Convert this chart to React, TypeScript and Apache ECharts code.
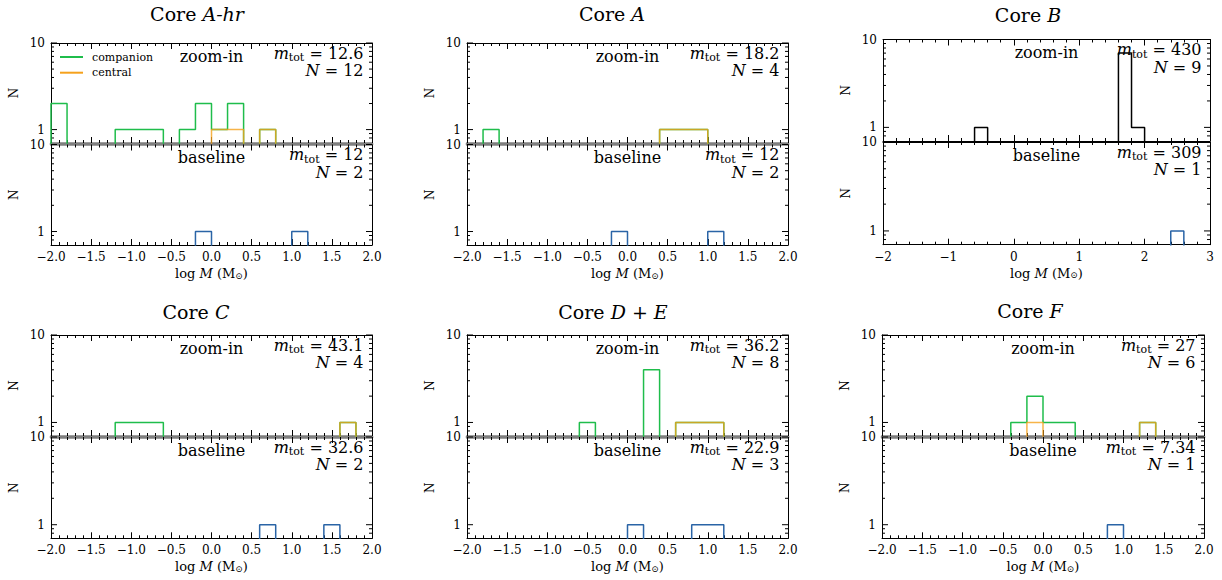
import React, { useEffect, useRef } from 'react';
import * as echarts from 'echarts';

const FONT = 'DejaVu Serif';

// Histogram bins: width 0.2 in log M, starting at -2.0
const BIN_START = -2.0;
const BIN_WIDTH = 0.2;
const Y_MIN = 0.7;
const Y_MAX = 10;

// ---- Core A-hr ----
const coreAhrCompanion = [2, 0, 0, 0, 1, 1, 1, 0, 1, 2, 1, 2, 0, 1, 0, 0, 0, 0, 0, 0];
const coreAhrCentral = [0, 0, 0, 0, 0, 0, 0, 0, 0, 0, 1, 1, 0, 1, 0, 0, 0, 0, 0, 0];
const coreAhrBaseline = [0, 0, 0, 0, 0, 0, 0, 0, 0, 1, 0, 0, 0, 0, 0, 1, 0, 0, 0, 0];
// ---- Core A ----
const coreACompanion = [0, 1, 0, 0, 0, 0, 0, 0, 0, 0, 0, 0, 1, 1, 1, 0, 0, 0, 0, 0];
const coreACentral = [0, 0, 0, 0, 0, 0, 0, 0, 0, 0, 0, 0, 1, 1, 1, 0, 0, 0, 0, 0];
const coreABaseline = [0, 0, 0, 0, 0, 0, 0, 0, 0, 1, 0, 0, 0, 0, 0, 1, 0, 0, 0, 0];
// ---- Core B (bins up to 3.0) ----
const coreBZoomIn = [0, 0, 0, 0, 0, 0, 0, 1, 0, 0, 0, 0, 0, 0, 0, 0, 0, 0, 7, 1, 0, 0, 0, 0, 0];
const coreBBaseline = [0, 0, 0, 0, 0, 0, 0, 0, 0, 0, 0, 0, 0, 0, 0, 0, 0, 0, 0, 0, 0, 0, 1, 0, 0];
// ---- Core C ----
const coreCCompanion = [0, 0, 0, 0, 1, 1, 1, 0, 0, 0, 0, 0, 0, 0, 0, 0, 0, 0, 1, 0];
const coreCCentral = [0, 0, 0, 0, 0, 0, 0, 0, 0, 0, 0, 0, 0, 0, 0, 0, 0, 0, 1, 0];
const coreCBaseline = [0, 0, 0, 0, 0, 0, 0, 0, 0, 0, 0, 0, 0, 1, 0, 0, 0, 1, 0, 0];
// ---- Core D + E ----
const coreDECompanion = [0, 0, 0, 0, 0, 0, 0, 1, 0, 0, 0, 4, 0, 1, 1, 1, 0, 0, 0, 0];
const coreDECentral = [0, 0, 0, 0, 0, 0, 0, 0, 0, 0, 0, 0, 0, 1, 1, 1, 0, 0, 0, 0];
const coreDEBaseline = [0, 0, 0, 0, 0, 0, 0, 0, 0, 0, 1, 0, 0, 0, 1, 1, 0, 0, 0, 0];
// ---- Core F ----
const coreFCompanion = [0, 0, 0, 0, 0, 0, 0, 0, 1, 2, 1, 1, 0, 0, 0, 0, 1, 0, 0, 0];
const coreFCentral = [0, 0, 0, 0, 0, 0, 0, 0, 0, 1, 0, 0, 0, 0, 0, 0, 1, 0, 0, 0];
const coreFBaseline = [0, 0, 0, 0, 0, 0, 0, 0, 0, 0, 0, 0, 0, 0, 1, 0, 0, 0, 0, 0];

// annotations: [m_tot, N]
const coreAhrStats = { zoom: ['12.6', 12], base: ['12', 2] };
const coreAStats = { zoom: ['18.2', 4], base: ['12', 2] };
const coreBStats = { zoom: ['430', 9], base: ['309', 1] };
const coreCStats = { zoom: ['43.1', 4], base: ['32.6', 2] };
const coreDEStats = { zoom: ['36.2', 8], base: ['22.9', 3] };
const coreFStats = { zoom: ['27', 6], base: ['7.34', 1] };

const yMinorTicks = [0.8, 0.9, 2, 3, 4, 5, 6, 7, 8, 9];
const yMajorTicks = [1, 10];

const C_COMP = '#1fbd4b';
const C_CENT = '#f5a11c';
const C_BASE = '#2a64a6';
const C_ALL = '#000000';
const C_SEP = '#7f7f7f';

type Ser = { name: string; counts: number[]; color: string; opacity?: number };
type Sub = { top: number; height: number; label: string; stats: (string | number)[]; series: Ser[] };
type Panel = {
  title: string; left: number; width: number; xmin: number; xmax: number; xInterval: number;
  decimals: number; titleX: number; titleY: number; sep: string; sepWidth: number; subs: Sub[];
};

const comp = (c: number[]): Ser => ({ name: 'companion', counts: c, color: C_COMP });
const cent = (c: number[]): Ser => ({ name: 'central', counts: c, color: C_CENT, opacity: 0.8 });
const base = (c: number[]): Ser => ({ name: 'baseline', counts: c, color: C_BASE });

const PANELS: Panel[] = [
  {
    title: 'Core {i|A-hr}', left: 51, width: 321, xmin: -2, xmax: 2, xInterval: 0.5, decimals: 1,
    titleX: 197, titleY: 14, sep: C_SEP, sepWidth: 2.5,
    subs: [
      { top: 43, height: 100, label: 'zoom-in', stats: coreAhrStats.zoom, series: [comp(coreAhrCompanion), cent(coreAhrCentral)] },
      { top: 144.5, height: 100.5, label: 'baseline', stats: coreAhrStats.base, series: [base(coreAhrBaseline)] },
    ],
  },
  {
    title: 'Core {i|A}', left: 467, width: 321, xmin: -2, xmax: 2, xInterval: 0.5, decimals: 1,
    titleX: 612, titleY: 14, sep: C_SEP, sepWidth: 2.5,
    subs: [
      { top: 43, height: 100, label: 'zoom-in', stats: coreAStats.zoom, series: [comp(coreACompanion), cent(coreACentral)] },
      { top: 144.5, height: 100.5, label: 'baseline', stats: coreAStats.base, series: [base(coreABaseline)] },
    ],
  },
  {
    title: 'Core {i|B}', left: 883, width: 327, xmin: -2, xmax: 3, xInterval: 1, decimals: 0,
    titleX: 1028, titleY: 15, sep: '#000', sepWidth: 1,
    subs: [
      { top: 39.5, height: 101.5, label: 'zoom-in', stats: coreBStats.zoom, series: [{ name: 'all', counts: coreBZoomIn, color: C_ALL }] },
      { top: 142, height: 102.7, label: 'baseline', stats: coreBStats.base, series: [base(coreBBaseline)] },
    ],
  },
  {
    title: 'Core {i|C}', left: 51, width: 321, xmin: -2, xmax: 2, xInterval: 0.5, decimals: 1,
    titleX: 196, titleY: 311.5, sep: C_SEP, sepWidth: 2.5,
    subs: [
      { top: 335, height: 101, label: 'zoom-in', stats: coreCStats.zoom, series: [comp(coreCCompanion), cent(coreCCentral)] },
      { top: 437, height: 101.3, label: 'baseline', stats: coreCStats.base, series: [base(coreCBaseline)] },
    ],
  },
  {
    title: 'Core {i|D} + {i|E}', left: 467, width: 321, xmin: -2, xmax: 2, xInterval: 0.5, decimals: 1,
    titleX: 613, titleY: 311.5, sep: C_SEP, sepWidth: 2.5,
    subs: [
      { top: 335, height: 101, label: 'zoom-in', stats: coreDEStats.zoom, series: [comp(coreDECompanion), cent(coreDECentral)] },
      { top: 437, height: 101.3, label: 'baseline', stats: coreDEStats.base, series: [base(coreDEBaseline)] },
    ],
  },
  {
    title: 'Core {i|F}', left: 882, width: 322, xmin: -2, xmax: 2, xInterval: 0.5, decimals: 1,
    titleX: 1030, titleY: 310.5, sep: C_SEP, sepWidth: 2.5,
    subs: [
      { top: 335, height: 101, label: 'zoom-in', stats: coreFStats.zoom, series: [comp(coreFCompanion), cent(coreFCentral)] },
      { top: 437, height: 101.3, label: 'baseline', stats: coreFStats.base, series: [base(coreFBaseline)] },
    ],
  },
];

function stepData(counts: number[]) {
  const FLOOR = 0.1; // stands for zero counts (below the log axis' minimum, clipped)
  const pts: number[][] = [[BIN_START, FLOOR]];
  counts.forEach((c, i) => pts.push([+(BIN_START + i * BIN_WIDTH).toFixed(2), c > 0 ? c : FLOOR]));
  pts.push([+(BIN_START + counts.length * BIN_WIDTH).toFixed(2), FLOOR]);
  return pts;
}

const yTickRender = (params: any, api: any) => {
  const v = api.value(1);
  const len = api.value(2) === 1 ? 6 : 3;
  const l = api.coord([api.value(0), v]);
  const r = api.coord([api.value(3), v]);
  return {
    type: 'group',
    children: [
      { type: 'line', shape: { x1: l[0], y1: l[1], x2: l[0] + len, y2: l[1] }, style: { stroke: '#000', lineWidth: 1 } },
      { type: 'line', shape: { x1: r[0] - len, y1: r[1], x2: r[0], y2: r[1] }, style: { stroke: '#000', lineWidth: 1 } },
    ],
  };
};

function buildOption() {
  const grids: any[] = [];
  const xAxes: any[] = [];
  const yAxes: any[] = [];
  const series: any[] = [];
  const graphics: any[] = [];

  PANELS.forEach((p) => {
    graphics.push({
      type: 'text', x: p.titleX, y: p.titleY, silent: true,
      style: {
        text: p.title, align: 'center', verticalAlign: 'middle', fill: '#000',
        fontFamily: FONT, fontSize: 19,
        rich: { i: { fontStyle: 'italic', fontFamily: FONT, fontSize: 19, fill: '#000' } },
      },
    });
    p.subs.forEach((s, si) => {
      const isBottom = si === 1;
      const gi = grids.length;
      grids.push({ left: p.left, top: s.top, width: p.width, height: s.height });
      const xBase = {
        type: 'value', gridIndex: gi, min: p.xmin, max: p.xmax, interval: p.xInterval,
        splitLine: { show: false },
        axisTick: { show: true, inside: true, length: 6, lineStyle: { color: '#000', width: 1 } },
        minorTick: { show: true, splitNumber: 5, length: 3, lineStyle: { color: '#000', width: 1 } },
        minorSplitLine: { show: false },
      };
      const xIdx = xAxes.length;
      xAxes.push({
        ...xBase, position: 'bottom',
        axisLine: { show: true, onZero: false, lineStyle: { color: isBottom ? '#000' : p.sep, width: isBottom ? 1 : p.sepWidth } },
        axisLabel: isBottom
          ? {
              show: true, margin: 6, color: '#000', fontFamily: FONT, fontSize: 12,
              formatter: (v: number) => {
                const t = Math.abs(v).toFixed(p.decimals);
                return v < -1e-9 ? '\u2212' + t : t;
              },
            }
          : { show: false },
        name: isBottom ? 'log {i|M} (M{s|\u2299})' : '',
        nameLocation: 'middle', nameGap: 22,
        nameTextStyle: {
          color: '#000', fontFamily: FONT, fontSize: 13,
          rich: {
            i: { fontStyle: 'italic', fontFamily: FONT, fontSize: 13, color: '#000' },
            s: { fontFamily: FONT, fontSize: 9, color: '#000', verticalAlign: 'bottom', lineHeight: 10 },
          },
        },
      });
      xAxes.push({
        ...xBase, position: 'top',
        axisLine: { show: true, onZero: false, lineStyle: { color: isBottom ? p.sep : '#000', width: isBottom ? p.sepWidth : 1 } },
        axisLabel: { show: false },
      });
      const yIdx = yAxes.length;
      const yBase = {
        type: 'log', logBase: 10, gridIndex: gi, min: Y_MIN, max: Y_MAX,
        axisLine: { show: true, onZero: false, lineStyle: { color: '#000', width: 1 } },
        axisTick: { show: false }, minorTick: { show: false }, splitLine: { show: false },
      };
      yAxes.push({
        ...yBase, position: 'left',
        axisLabel: {
          show: true, margin: 6, color: '#000', fontFamily: FONT, fontSize: 12,
          formatter: (v: number) => (Math.abs(v - 1) < 1e-6 ? '1' : Math.abs(v - 10) < 1e-6 ? '10' : ''),
        },
        name: 'N', nameLocation: 'middle', nameRotate: 90, nameGap: 31,
        nameTextStyle: { color: '#000', fontFamily: FONT, fontSize: 12 },
      });
      yAxes.push({ ...yBase, position: 'right', axisLabel: { show: false } });

      s.series.forEach((ser) => {
        series.push({
          type: 'line', name: ser.name, xAxisIndex: xIdx, yAxisIndex: yIdx,
          data: stepData(ser.counts), step: 'end', showSymbol: false, symbol: 'none', clip: true,
          silent: true,
          lineStyle: { color: ser.color, width: 1.5, opacity: ser.opacity ?? 1 },
          itemStyle: { color: ser.color },
        });
      });
      series.push({
        type: 'custom', xAxisIndex: xIdx, yAxisIndex: yIdx, silent: true, clip: false,
        dimensions: ['x', 'y', 'major', 'xEnd'], encode: { x: 0, y: 1 },
        data: [
          ...yMinorTicks.map((v) => [p.xmin, v, 0, p.xmax]),
          ...yMajorTicks.map((v) => [p.xmin, v, 1, p.xmax]),
        ],
        renderItem: yTickRender,
      });

      const right = p.left + p.width - 8.5;
      graphics.push({
        type: 'text', x: p.left + p.width / 2, y: s.top + 13, silent: true,
        style: { text: s.label, align: 'center', verticalAlign: 'middle', fill: '#000', fontFamily: FONT, fontSize: 16 },
      });
      graphics.push({
        type: 'text', x: right, y: s.top + 10, silent: true,
        style: {
          text: '{m|m}{t|tot}{e| = ' + s.stats[0] + '}', align: 'right', verticalAlign: 'middle', fill: '#000',
          fontFamily: FONT, fontSize: 16,
          rich: {
            m: { fontStyle: 'italic', fontFamily: FONT, fontSize: 16, lineHeight: 20, fill: '#000' },
            t: { fontFamily: FONT, fontSize: 11, lineHeight: 12, verticalAlign: 'bottom', fill: '#000' },
            e: { fontFamily: FONT, fontSize: 16, lineHeight: 20, fill: '#000' },
          },
        },
      });
      graphics.push({
        type: 'text', x: right, y: s.top + 27.5, silent: true,
        style: {
          text: '{m|N}{e| = ' + s.stats[1] + '}', align: 'right', verticalAlign: 'middle', fill: '#000',
          fontFamily: FONT, fontSize: 16,
          rich: {
            m: { fontStyle: 'italic', fontFamily: FONT, fontSize: 16, lineHeight: 20, fill: '#000' },
            e: { fontFamily: FONT, fontSize: 16, lineHeight: 20, fill: '#000' },
          },
        },
      });
    });
  });

  return {
    animation: false,
    backgroundColor: '#fff',
    textStyle: { fontFamily: FONT },
    grid: grids,
    xAxis: xAxes,
    yAxis: yAxes,
    series,
    graphic: graphics,
    legend: {
      show: true, data: ['companion', 'central'], orient: 'vertical', left: 60, top: 50.5, padding: 0,
      itemGap: 2.7, itemWidth: 23, itemHeight: 2, icon: 'rect', selectedMode: false,
      textStyle: { fontFamily: FONT, fontSize: 11, color: '#000', lineHeight: 13, padding: [0, 0, 0, 4] },
    },
  };
}

export default function App() {
  const ref = useRef<HTMLDivElement>(null);
  useEffect(() => {
    const chart = echarts.init(ref.current as HTMLDivElement, null, { renderer: 'svg' });
    chart.setOption(buildOption() as any);
    return () => chart.dispose();
  }, []);
  return <div ref={ref} style={{ position: 'absolute', left: 0, top: 0, width: 1222, height: 580, background: '#fff' }} />;
}
